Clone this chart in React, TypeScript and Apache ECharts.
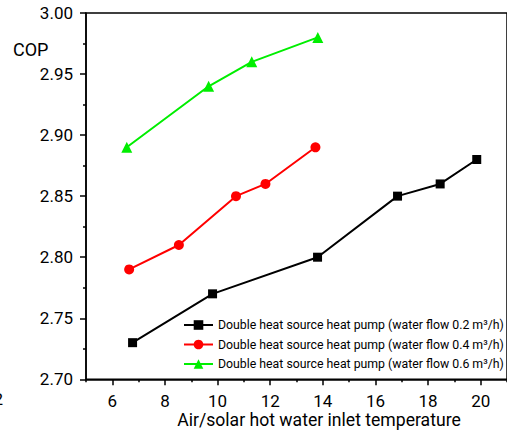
import React, { useEffect, useRef } from "react";
import * as echarts from "echarts";

const xBlack = [6.77, 9.81, 13.8, 16.84, 18.46, 19.85];
const yBlack = [2.73, 2.77, 2.8, 2.85, 2.86, 2.88];
const xRed = [6.64, 8.53, 10.7, 11.82, 13.72];
const yRed = [2.79, 2.81, 2.85, 2.86, 2.89];
const xGreen = [6.55, 9.66, 11.3, 13.81];
const yGreen = [2.89, 2.94, 2.96, 2.98];

const seriesNames = [
  "Double heat source heat pump (water flow 0.2 m³/h)",
  "Double heat source heat pump (water flow 0.4 m³/h)",
  "Double heat source heat pump (water flow 0.6 m³/h)",
];
const majorX = [6, 8, 10, 12, 14, 16, 18, 20];
const minorX = [5, 7, 9, 11, 13, 15, 17, 19, 21];

const FONT = "Roboto";

const zip = (xs: number[], ys: number[]) => xs.map((x, i) => [x, ys[i]]);

export default function App() {
  const ref = useRef<HTMLDivElement>(null);
  useEffect(() => {
    if (!ref.current) return;
    const chart = echarts.init(ref.current, null, { renderer: "svg" });
    const axisLine = { show: true, lineStyle: { color: "#000", width: 1.5 } };
    chart.setOption({
      animation: false,
      backgroundColor: "#fff",
      textStyle: { fontFamily: FONT, color: "#000" },
      grid: {
        left: 86,
        top: 13,
        width: 425.6,
        height: 366.3,
        show: true,
        borderColor: "#000",
        borderWidth: 1.5,
        backgroundColor: "transparent",
      },
      legend: {
        orient: "vertical",
        left: 178,
        top: 314,
        itemWidth: 29,
        itemHeight: 12,
        itemGap: 7.5,
        textStyle: { fontFamily: FONT, fontSize: 12.3, color: "#000" },
        data: seriesNames,
      },
      xAxis: [
        {
          type: "value",
          min: 5,
          max: 21,
          interval: 1,
          axisLine,
          splitLine: { show: false },
          axisTick: {
            show: true,
            customValues: majorX,
            length: 6,
            lineStyle: { color: "#000", width: 1.5 },
          },
          axisLabel: {
            customValues: majorX,
            fontSize: 17,
            fontFamily: FONT,
            color: "#000",
            margin: 13,
          },
        },
        {
          type: "value",
          min: 5,
          max: 21,
          interval: 1,
          position: "bottom",
          axisLine: { show: false },
          splitLine: { show: false },
          axisTick: {
            show: true,
            customValues: minorX,
            length: 3,
            lineStyle: { color: "#000", width: 1.5 },
          },
          axisLabel: { show: false },
        },
      ],
      yAxis: {
        type: "value",
        min: 2.7,
        max: 3.0,
        interval: 0.05,
        axisLine,
        splitLine: { show: false },
        axisTick: { show: true, length: 6, lineStyle: { color: "#000", width: 1.5 } },
        minorTick: { show: true, splitNumber: 2, length: 3, lineStyle: { color: "#000", width: 1.5 } },
        axisLabel: {
          fontSize: 17,
          fontFamily: FONT,
          color: "#000",
          margin: 13,
          formatter: (v: number) => v.toFixed(2),
        },
      },
      graphic: [
        {
          type: "text",
          left: 13,
          top: 40,
          style: { text: "COP", fontSize: 18, fontFamily: FONT, fill: "#000" },
        },
        {
          type: "text",
          x: 319,
          y: 420,
          style: {
            text: "Air/solar hot water inlet temperature",
            fontSize: 17.6,
            fontFamily: FONT,
            fill: "#000",
            align: "center",
            verticalAlign: "middle",
          },
        },
        {
          type: "text",
          x: 3,
          y: 399,
          style: {
            text: "2",
            fontSize: 17,
            fontFamily: FONT,
            fill: "#000",
            align: "right",
            verticalAlign: "middle",
          },
        },
      ],
      series: [
        {
          name: seriesNames[0],
          type: "line",
          data: zip(xBlack, yBlack),
          symbol: "rect",
          symbolSize: 9,
          itemStyle: { color: "#000" },
          lineStyle: { color: "#000", width: 2 },
        },
        {
          name: seriesNames[1],
          type: "line",
          data: zip(xRed, yRed),
          symbol: "circle",
          symbolSize: 10,
          itemStyle: { color: "#ff0000" },
          lineStyle: { color: "#ff0000", width: 2 },
        },
        {
          name: seriesNames[2],
          type: "line",
          data: zip(xGreen, yGreen),
          symbol: "triangle",
          symbolSize: 11,
          itemStyle: { color: "#00ee00" },
          lineStyle: { color: "#00ee00", width: 2 },
        },
      ],
    });
    return () => chart.dispose();
  }, []);
  return (
    <div
      ref={ref}
      style={{ position: "absolute", left: 0, top: 0, width: 507, height: 432 }}
    />
  );
}
